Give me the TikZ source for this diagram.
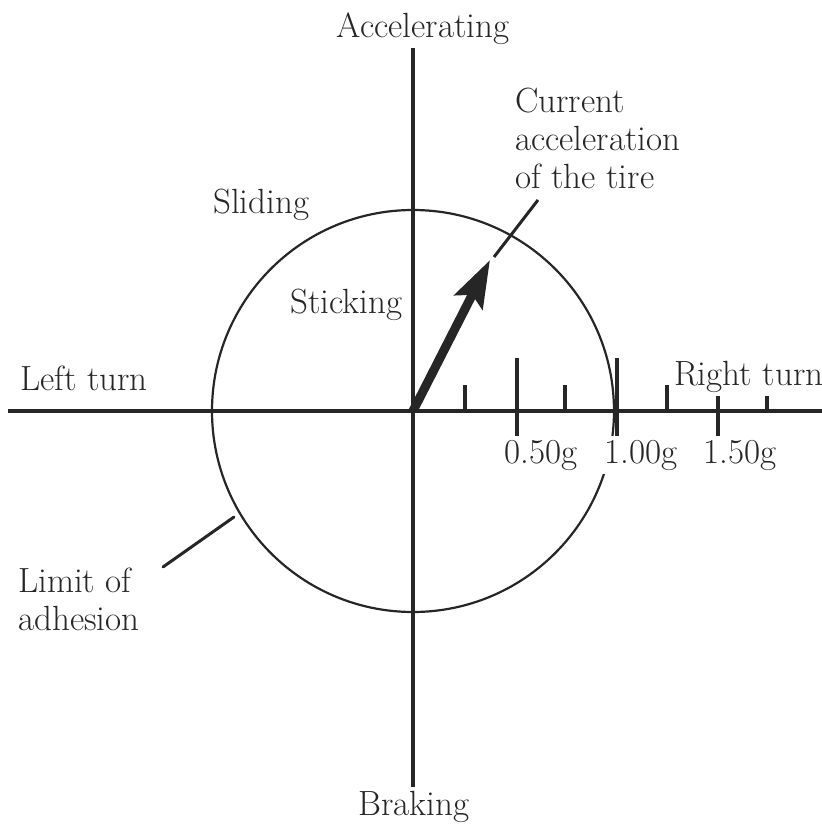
\documentclass[tikz,border=0pt]{standalone}
\usetikzlibrary{arrows.meta}

\begin{document}
\begin{tikzpicture}[x=1pt, y=1pt, font=\fontsize{35}{38}\selectfont, color=black!85, axis/.style={line width=4.5pt}, tick/.style={line width=3.5pt}, lbl/.style={inner sep=0pt, align=left}, cover/.style={inner xsep=2pt, inner ysep=4pt, fill=white}, lead/.style={line width=3pt}, vec/.style={line width=9pt, -{Stealth[length=47pt, width=31pt, inset=8pt]}}]
\useasboundingbox (-413,-420) rectangle (409,411);
\coordinate (o) at (0,0);
\coordinate (top) at (0,403); \coordinate (bot) at (0,-414);
\coordinate (lft) at (-405,0); \coordinate (rgt) at (409,0);
% axes and limit circle
\draw[axis] (lft) -- (rgt);
\draw[axis] (top) -- (bot);
\draw[line width=2.2pt] (o) circle[radius=201pt];
% ticks, 100 = 0.50g
\draw[tick] (52,0) -- (52,26); \draw[tick] (104,-26) -- (104,53); \draw[tick] (152,0) -- (152,26);
\draw[tick] (204,-26) -- (204,53); \draw[tick] (254,0) -- (254,26); \draw[tick] (305,-26) -- (305,53); \draw[tick] (354,0) -- (354,26);
% current acceleration
\coordinate (tip) at (77,151);
\draw[vec] (o) -- (tip);
\coordinate (c1) at (81,154); \coordinate (c2) at (125,211);
\draw[lead] (c1) -- (c2);
\coordinate (a1) at (-250,-156); \coordinate (a2) at (-179,-106);
\draw[lead, line cap=round] (a1) -- (a2);
% labels
\node[cover, anchor=base] (acc) at (10,374) {Accelerating};
\node[cover, anchor=base] (brk) at (1,-404) {Braking};
\node[lbl, anchor=base west] (lt) at (-393,21) {Left turn};
\node[cover, anchor=base west] (rt) at (259,26) {Right turn};
\node[lbl, anchor=base west] (sld) at (-200,198) {Sliding};
\node[lbl, anchor=base west] (stk) at (-123,98) {Sticking};
\node[lbl, anchor=base west] (cur) at (102,223) {Current\\acceleration\\of the tire};
\node[lbl, anchor=base west] (lim) at (-395,-219) {Limit of\\adhesion};
\node[cover, anchor=base west] (g05) at (89,-52) {0.50g};
\node[cover, anchor=base west] (g10) at (189,-52) {1.00g};
\node[cover, anchor=base west] (g15) at (288,-52) {1.50g};
\end{tikzpicture}
\end{document}
